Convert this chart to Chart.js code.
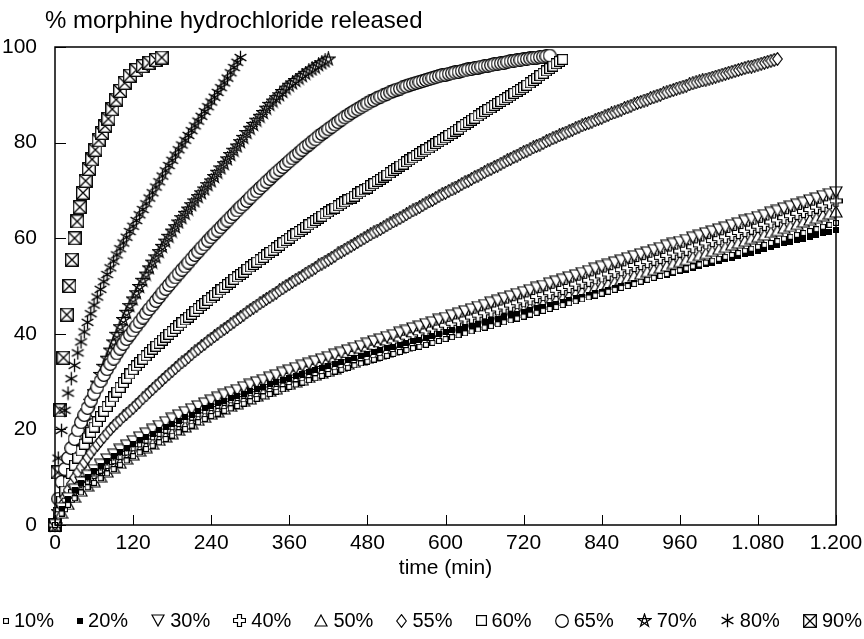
<!DOCTYPE html>
<html>
<head>
<meta charset="utf-8">
<title>morphine release</title>
<script src="https://cdn.jsdelivr.net/npm/chart.js@4.4.1/dist/chart.umd.min.js"></script>
<style>
  html, body { margin: 0; padding: 0; background: #fff; }
  #wrap { position: relative; width: 864px; height: 639px; }
  #ytitle { position: absolute; left: 45px; top: 6px; font: 24px "Liberation Sans", Arial, sans-serif; color: #000; white-space: nowrap; }
  #legend { position: absolute; left: 0; top: 609px; width: 864px; box-sizing: border-box; padding: 0 2px 0 3px;
            display: flex; justify-content: space-between; align-items: center;
            font: 20px "Liberation Sans", Arial, sans-serif; color: #000; }
  #legend .item { display: flex; align-items: center; white-space: nowrap; }
  #legend canvas { margin-right: 5px; }
</style>
</head>
<body>
<div id="wrap">
  <canvas id="chart" width="864" height="639"></canvas>
  <div id="ytitle">% morphine hydrochloride released</div>
  <div id="legend"></div>
</div>
<script>
'use strict';

// sampling times (min)
const t10 = [0,10,20,30,40,50,60,70,80,90,100,110,120,130,140,150,160,170,180,190,200,210,220,230,240,
  250,260,270,280,290,300,310,320,330,340,350,360,370,380,390,400,410,420,430,440,450,460,470,480,
  490,500,510,520,530,540,550,560,570,580,590,600,610,620,630,640,650,660,670,680,690,700,710,720,
  730,740,750,760,770,780,790,800,810,820,830,840,850,860,870,880,890,900,910,920,930,940,950,960,
  970,980,990,1000,1010,1020,1030,1040,1050,1060,1070,1080,1090,1100,1110,1120,1130,1140,1150,1160,1170,1180,1190,1200];
const t5 = [0,5,10,15,20,25,30,35,40,45,50,55,60,65,70,75,80,85,90,95,100,105,110,115,120,
  125,130,135,140,145,150,155,160,165,170,175,180,185,190,195,200,205,210,215,220,225,230,235,240,
  245,250,255,260,265,270,275,280,285,290,295,300,305,310,315,320,325,330,335,340,345,350,355,360,
  365,370,375,380,385,390,395,400,405,410,415,420,425,430,435,440,445,450,455,460,465,470,475,480,
  485,490,495,500,505,510,515,520,525,530,535,540,545,550,555,560,565,570,575,580,585,590,595,600,
  605,610,615,620,625,630,635,640,645,650,655,660,665,670,675,680,685,690,695,700,705,710,715,720,
  725,730,735,740,745,750,755,760,765,770,775,780,785,790,795,800,805,810,815,820,825,830,835,840,
  845,850,855,860,865,870,875,880,885,890,895,900,905,910,915,920,925,930,935,940,945,950,955,960,
  965,970,975,980,985,990,995,1000,1005,1010,1015,1020,1025,1030,1035,1040,1045,1050,1055,1060,1065,1070,1075,1080,
  1085,1090,1095,1100,1105,1110];
const t90 = [0,4,8,13,18,22,26,30,34,38,43,47,52,57,62,67,72,77,82,88,94,100,107,115,125,135,145,155,164];

// % released
const rel10 = [0,2.4,4.2,5.6,6.8,7.9,8.8,9.8,10.8,11.7,12.6,13.5,14.4,
  15.2,15.9,16.6,17.3,18.0,18.7,19.4,20.1,20.8,21.5,22.2,22.8,
  23.3,23.9,24.4,24.9,25.4,25.9,26.4,26.9,27.4,27.9,28.4,28.9,
  29.4,29.8,30.3,30.7,31.2,31.6,32.1,32.5,32.9,33.4,33.8,34.2,
  34.6,35.0,35.4,35.8,36.2,36.6,37.0,37.3,37.7,38.1,38.5,38.9,
  39.3,39.7,40.1,40.5,40.9,41.3,41.6,42.0,42.4,42.8,43.2,43.6,
  44.0,44.4,44.8,45.2,45.6,46.0,46.4,46.8,47.2,47.6,48.0,48.4,
  48.8,49.2,49.6,50.0,50.4,50.9,51.3,51.7,52.1,52.5,52.9,53.3,
  53.7,54.1,54.5,54.9,55.3,55.7,56.1,56.5,56.9,57.4,57.8,58.2,
  58.6,59.0,59.4,59.9,60.3,60.7,61.1,61.5,61.9,62.4,62.8,63.2];
const rel20 = [0,3.4,5.5,7.3,8.8,10.1,11.2,12.3,13.4,14.4,15.3,16.2,17.0,
  17.7,18.4,19.1,19.8,20.5,21.1,21.8,22.5,23.1,23.8,24.4,25.0,
  25.5,26.0,26.5,27.0,27.5,28.0,28.5,28.9,29.4,29.9,30.3,30.8,
  31.2,31.6,32.1,32.5,32.9,33.3,33.7,34.2,34.6,35.0,35.4,35.8,
  36.2,36.6,37.0,37.3,37.7,38.1,38.5,38.8,39.2,39.6,39.9,40.3,
  40.7,41.0,41.4,41.7,42.1,42.5,42.8,43.2,43.5,43.9,44.2,44.6,
  44.9,45.3,45.6,46.0,46.3,46.7,47.1,47.4,47.8,48.1,48.5,48.8,
  49.2,49.5,49.9,50.2,50.6,50.9,51.3,51.7,52.0,52.4,52.7,53.1,
  53.4,53.8,54.2,54.5,54.9,55.2,55.6,55.9,56.3,56.7,57.0,57.4,
  57.8,58.1,58.5,58.9,59.2,59.6,59.9,60.3,60.7,61.0,61.4,61.8];
const rel30 = [0,3.5,5.6,7.4,8.9,10.3,11.5,12.6,13.7,14.7,15.7,16.6,17.5,
  18.3,19.1,19.9,20.7,21.5,22.2,22.9,23.6,24.2,24.8,25.4,26.0,
  26.6,27.2,27.7,28.2,28.8,29.3,29.8,30.3,30.8,31.3,31.8,32.3,
  32.8,33.3,33.7,34.2,34.6,35.1,35.6,36.0,36.5,37.0,37.4,37.9,
  38.4,38.8,39.3,39.7,40.2,40.6,41.1,41.5,42.0,42.4,42.9,43.3,
  43.8,44.2,44.7,45.1,45.6,46.0,46.5,46.9,47.4,47.8,48.3,48.7,
  49.1,49.6,50.0,50.5,50.9,51.3,51.8,52.2,52.7,53.1,53.6,54.0,
  54.4,54.9,55.3,55.8,56.2,56.6,57.0,57.5,57.9,58.4,58.8,59.2,
  59.6,60.1,60.5,61.0,61.4,61.8,62.2,62.7,63.1,63.6,64.0,64.4,
  64.8,65.3,65.7,66.2,66.6,67.0,67.4,67.9,68.3,68.8,69.2,69.6];
const rel40 = [0,3.2,5.2,7.0,8.5,9.8,11.0,12.1,13.1,14.1,15.0,15.9,16.8,
  17.6,18.4,19.1,19.8,20.5,21.2,21.9,22.6,23.2,23.9,24.5,25.2,
  25.7,26.3,26.8,27.3,27.8,28.3,28.8,29.3,29.8,30.3,30.8,31.3,
  31.8,32.2,32.7,33.2,33.6,34.1,34.5,35.0,35.5,35.9,36.4,36.8,
  37.2,37.7,38.1,38.5,38.9,39.3,39.8,40.2,40.6,41.0,41.4,41.8,
  42.2,42.7,43.1,43.5,43.9,44.4,44.8,45.2,45.6,46.0,46.5,46.9,
  47.3,47.8,48.2,48.6,49.1,49.5,49.9,50.4,50.8,51.2,51.7,52.1,
  52.5,53.0,53.4,53.8,54.3,54.7,55.1,55.6,56.0,56.4,56.9,57.3,
  57.7,58.2,58.6,59.0,59.5,59.9,60.3,60.8,61.2,61.6,62.1,62.5,
  62.9,63.4,63.8,64.3,64.7,65.2,65.6,66.0,66.5,66.9,67.4,67.8];
const rel50 = [0,2.6,4.4,5.9,7.2,8.3,9.2,10.2,11.2,12.1,13.0,13.9,14.8,
  15.6,16.3,17.0,17.8,18.5,19.2,19.9,20.6,21.3,22.0,22.6,23.3,
  23.8,24.4,24.9,25.5,26.0,26.5,27.1,27.6,28.1,28.6,29.1,29.6,
  30.1,30.5,31.0,31.5,31.9,32.4,32.8,33.3,33.8,34.2,34.7,35.1,
  35.5,35.9,36.4,36.8,37.2,37.6,38.0,38.4,38.8,39.2,39.6,40.0,
  40.4,40.8,41.3,41.7,42.1,42.5,42.9,43.3,43.8,44.2,44.6,45.0,
  45.4,45.8,46.3,46.7,47.1,47.5,48.0,48.4,48.8,49.2,49.7,50.1,
  50.5,50.9,51.4,51.8,52.2,52.6,53.1,53.5,53.9,54.3,54.8,55.2,
  55.6,56.1,56.5,56.9,57.4,57.8,58.2,58.7,59.1,59.5,60.0,60.4,
  60.8,61.3,61.7,62.2,62.6,63.0,63.5,63.9,64.3,64.8,65.2,65.6];
const rel55 = [0,2.2,4.0,5.8,7.3,8.6,9.9,11.0,12.1,13.1,14.1,15.1,16.0,16.8,17.6,18.4,19.2,20.0,20.7,21.4,22.0,22.7,23.3,23.9,24.5,
  25.2,25.8,26.5,27.1,27.8,28.4,29.1,29.7,30.4,31.0,31.6,32.2,32.8,33.4,34.0,34.5,35.1,35.7,36.3,36.8,37.4,37.9,38.5,39.0,
  39.5,40.0,40.5,41.0,41.5,42.0,42.5,43.0,43.5,44.0,44.5,45.0,45.5,45.9,46.4,46.8,47.3,47.7,48.2,48.6,49.1,49.5,50.0,50.4,
  50.9,51.3,51.7,52.1,52.6,53.0,53.4,53.8,54.3,54.7,55.1,55.5,55.9,56.3,56.8,57.2,57.6,58.0,58.4,58.8,59.2,59.6,60.0,60.4,
  60.8,61.2,61.6,61.9,62.3,62.7,63.1,63.5,63.9,64.2,64.6,65.0,65.4,65.8,66.2,66.5,66.9,67.3,67.7,68.0,68.4,68.8,69.2,69.5,
  69.9,70.2,70.6,70.9,71.3,71.7,72.0,72.4,72.8,73.1,73.5,73.8,74.2,74.5,74.9,75.2,75.6,75.9,76.3,76.6,77.0,77.3,77.7,78.0,
  78.3,78.6,79.0,79.3,79.6,79.9,80.3,80.6,80.9,81.2,81.5,81.8,82.1,82.4,82.7,83.0,83.3,83.6,83.9,84.1,84.4,84.7,85.0,85.2,
  85.5,85.8,86.1,86.3,86.6,86.9,87.2,87.4,87.7,88.0,88.3,88.5,88.8,89.0,89.3,89.5,89.8,90.0,90.3,90.5,90.8,91.0,91.3,91.5,
  91.7,91.9,92.2,92.4,92.6,92.8,93.0,93.2,93.4,93.6,93.8,94.0,94.2,94.4,94.6,94.8,95.0,95.2,95.4,95.6,95.8,95.9,96.1,96.3,
  96.5,96.7,96.9,97.1,97.3,97.5];
const rel60 = [0,2.7,5.0,7.1,9.0,10.8,12.5,14.0,15.5,16.9,18.2,19.4,20.5,21.6,22.7,23.8,24.8,25.8,26.8,27.8,28.8,29.8,30.7,31.6,32.5,
  33.3,34.0,34.7,35.4,36.1,36.8,37.4,38.0,38.7,39.3,39.9,40.5,41.1,41.7,42.3,42.9,43.5,44.1,44.7,45.3,45.9,46.4,47.0,47.5,
  48.1,48.6,49.2,49.7,50.3,50.8,51.4,51.9,52.4,52.9,53.5,54.0,54.5,55.0,55.5,56.0,56.5,57.0,57.5,58.0,58.5,59.0,59.5,60.0,
  60.5,60.9,61.4,61.8,62.3,62.8,63.2,63.7,64.2,64.6,65.1,65.5,65.9,66.3,66.8,67.2,67.6,68.0,68.4,68.8,69.3,69.7,70.1,70.5,
  71.0,71.4,71.9,72.3,72.8,73.2,73.7,74.2,74.6,75.1,75.5,76.0,76.4,76.8,77.3,77.7,78.1,78.5,78.9,79.3,79.8,80.2,80.6,81.0,
  81.5,81.9,82.4,82.8,83.3,83.8,84.2,84.7,85.1,85.6,86.0,86.5,86.9,87.3,87.8,88.2,88.6,89.0,89.4,89.8,90.3,90.7,91.1,91.5,
  92.0,92.5,93.0,93.5,94.0,94.5,95.0,95.5,96.0,96.5,97.0,97.4];
const rel65 = [0,5.5,9.0,11.7,14.0,16.1,18.0,19.8,21.5,23.0,24.5,26.0,27.5,28.8,30.1,31.4,32.6,33.7,34.8,35.9,36.9,37.9,38.9,39.8,40.7,
  41.6,42.5,43.4,44.3,45.2,46.0,46.9,47.7,48.6,49.4,50.2,51.0,51.8,52.6,53.4,54.1,54.9,55.7,56.5,57.2,58.0,58.7,59.5,60.2,
  60.9,61.6,62.3,63.0,63.7,64.4,65.1,65.8,66.5,67.1,67.8,68.5,69.2,69.8,70.5,71.1,71.8,72.4,73.1,73.7,74.3,74.9,75.5,76.1,
  76.7,77.3,77.9,78.5,79.1,79.6,80.2,80.7,81.3,81.8,82.3,82.8,83.3,83.8,84.3,84.8,85.3,85.7,86.2,86.6,87.0,87.4,87.8,88.2,
  88.6,88.9,89.3,89.6,89.9,90.2,90.5,90.8,91.1,91.3,91.6,91.8,92.1,92.3,92.5,92.7,92.9,93.1,93.3,93.5,93.7,93.9,94.1,94.2,
  94.4,94.5,94.7,94.8,95.0,95.1,95.3,95.4,95.6,95.7,95.9,96.0,96.1,96.2,96.4,96.5,96.6,96.7,96.9,97.0,97.1,97.2,97.3,97.4,
  97.5,97.6,97.7,97.8,97.9,98.0,98.1,98.2];
const rel70 = [0,2.8,5.2,7.7,10.1,12.6,15.0,17.3,19.6,21.8,23.9,25.9,27.9,29.7,31.5,33.2,34.9,36.6,38.3,39.9,41.5,43.0,44.5,45.9,47.3,
  48.6,49.9,51.2,52.5,53.8,55.0,56.1,57.2,58.3,59.4,60.4,61.5,62.4,63.4,64.3,65.2,66.1,67.0,67.8,68.7,69.5,70.3,71.2,72.0,
  72.9,73.8,74.7,75.6,76.6,77.5,78.4,79.3,80.2,81.1,82.1,83.0,83.8,84.7,85.5,86.3,87.2,88.0,88.7,89.4,90.0,90.7,91.4,92.0,
  92.5,93.0,93.5,94.0,94.5,95.0,95.4,95.8,96.3,96.7,97.1,97.5];
const rel80 = [0,14.0,19.8,24.0,27.6,30.6,33.4,36.0,38.3,40.4,42.4,44.2,46.0,47.7,49.3,50.9,52.4,53.8,55.2,56.5,57.8,59.0,60.2,61.4,62.5,
  63.7,64.9,66.0,67.2,68.4,69.5,70.7,71.8,73.0,74.1,75.2,76.3,77.4,78.5,79.5,80.5,81.5,82.5,83.5,84.5,85.5,86.5,87.5,88.5,
  89.5,90.5,91.5,92.5,93.5,94.6,95.7,96.8,97.8];
const rel90 = [0,11,24,35,44,50,55.5,60,63.5,66.5,69.5,72,74.5,76.5,78.5,80.5,82,83.5,85,87,89,90.8,92.5,94,95.2,96,96.7,97.3,97.8];

const seriesLabels = ['10%','20%','30%','40%','50%','55%','60%','65%','70%','80%','90%'];
const xTickLabels = ['0','120','240','360','480','600','720','840','960','1.080','1.200'];
const yTickLabels = ['0','20','40','60','80','100'];

// marker glyphs, drawn once into small canvases
function marker(w, h, draw) {
  const c = document.createElement('canvas');
  c.width = w; c.height = h;
  const g = c.getContext('2d');
  g.lineWidth = 1.2;
  g.strokeStyle = '#000';
  g.fillStyle = '#fff';
  draw(g);
  return c;
}
function poly(g, p) {
  g.beginPath();
  g.moveTo(p[0][0], p[0][1]);
  for (let i = 1; i < p.length; i++) g.lineTo(p[i][0], p[i][1]);
  g.closePath();
  g.fill();
  g.stroke();
}
const glyphs = [
  () => marker(6, 6, g => { g.fillRect(0, 0, 6, 6); g.strokeRect(0.5, 0.5, 5, 5); }),
  () => marker(6, 6, g => { g.fillStyle = '#000'; g.fillRect(0, 0, 6, 6); }),
  () => marker(14, 13, g => poly(g, [[1, 1], [13, 1], [7, 12]])),
  () => marker(13, 13, g => poly(g, [[4.5,0.5],[8.5,0.5],[8.5,4.5],[12.5,4.5],[12.5,8.5],[8.5,8.5],[8.5,12.5],[4.5,12.5],[4.5,8.5],[0.5,8.5],[0.5,4.5],[4.5,4.5]])),
  () => marker(14, 13, g => poly(g, [[7, 1], [13, 12], [1, 12]])),
  () => marker(11, 14, g => poly(g, [[5.5, 0.7], [10.3, 7], [5.5, 13.3], [0.7, 7]])),
  () => marker(11, 11, g => { g.fillRect(0, 0, 11, 11); g.strokeRect(0.6, 0.6, 9.8, 9.8); }),
  () => marker(14, 14, g => { g.beginPath(); g.arc(7, 7, 6.3, 0, Math.PI * 2); g.fill(); g.stroke(); }),
  () => marker(15, 15, g => {
    const p = [];
    for (let k = 0; k < 5; k++) {
      const a = -Math.PI / 2 + k * 4 * Math.PI / 5;
      p.push([7.5 + 6.8 * Math.cos(a), 7.8 + 6.8 * Math.sin(a)]);
    }
    poly(g, p);
  }),
  () => marker(15, 15, g => {
    g.lineWidth = 1.3;
    g.beginPath();
    [90, 30, 150].forEach(d => {
      const a = d * Math.PI / 180;
      g.moveTo(7.5 - 6.8 * Math.cos(a), 7.5 - 6.8 * Math.sin(a));
      g.lineTo(7.5 + 6.8 * Math.cos(a), 7.5 + 6.8 * Math.sin(a));
    });
    g.stroke();
  }),
  () => marker(14, 14, g => {
    g.lineWidth = 1.3;
    g.fillRect(0, 0, 14, 14);
    g.strokeRect(0.7, 0.7, 12.6, 12.6);
    g.beginPath();
    g.moveTo(1, 1); g.lineTo(13, 13);
    g.moveTo(13, 1); g.lineTo(1, 13);
    g.stroke();
  })
];

function pts(ts, ys) {
  return ys.map((y, i) => ({x: ts[i], y: y}));
}

const seriesData = [
  pts(t10, rel10), pts(t10, rel20), pts(t10, rel30), pts(t10, rel40), pts(t10, rel50),
  pts(t5, rel55), pts(t5, rel60), pts(t5, rel65), pts(t5, rel70), pts(t5, rel80), pts(t90, rel90)
];

const datasets = seriesLabels.map((lab, i) => ({
  label: lab,
  data: seriesData[i],
  pointStyle: glyphs[i](),
  pointRadius: 6,
  showLine: false,
  clip: false
}));

// legend row (html)
const legendEl = document.getElementById('legend');
seriesLabels.forEach((lab, i) => {
  const item = document.createElement('span');
  item.className = 'item';
  item.appendChild(glyphs[i]());
  const txt = document.createElement('span');
  txt.textContent = lab;
  item.appendChild(txt);
  legendEl.appendChild(item);
});

// box round the plot and inward tick marks
const frame = {
  id: 'frame',
  afterDatasetsDraw(chart) {
    const {ctx, chartArea: a, scales} = chart;
    ctx.save();
    ctx.strokeStyle = '#000';
    ctx.lineWidth = 1.5;
    ctx.strokeRect(a.left, a.top, a.right - a.left, a.bottom - a.top);
    ctx.lineWidth = 1;
    ctx.beginPath();
    scales.x.ticks.forEach(t => {
      const px = Math.round(scales.x.getPixelForValue(t.value)) + 0.5;
      ctx.moveTo(px, a.bottom);
      ctx.lineTo(px, a.bottom - 10);
    });
    scales.y.ticks.forEach(t => {
      const py = Math.round(scales.y.getPixelForValue(t.value)) + 0.5;
      ctx.moveTo(a.left, py);
      ctx.lineTo(a.left + 11, py);
    });
    ctx.stroke();
    ctx.restore();
  }
};

Chart.defaults.font.family = '"Liberation Sans", Arial, sans-serif';
Chart.defaults.color = '#000';

new Chart(document.getElementById('chart'), {
  type: 'scatter',
  data: { datasets: datasets },
  options: {
    responsive: false,
    animation: false,
    events: [],
    layout: { padding: { top: 47, right: 28, left: 0, bottom: 0 } },
    plugins: { legend: { display: false }, tooltip: { enabled: false } },
    scales: {
      x: {
        type: 'linear', min: 0, max: 1200,
        grid: { display: false },
        border: { display: false },
        ticks: {
          stepSize: 120, autoSkip: false, maxRotation: 0, padding: -2,
          font: { size: 21 },
          callback: (v, i) => xTickLabels[i]
        },
        title: { display: true, text: 'time (min)', font: { size: 21 }, padding: { top: 0, bottom: 58 } },
        afterFit: s => { s.height = 114; }
      },
      y: {
        type: 'linear', min: 0, max: 100,
        grid: { display: false },
        border: { display: false },
        ticks: {
          stepSize: 20, padding: 10,
          font: { size: 21 },
          callback: (v, i) => yTickLabels[i]
        },
        afterFit: s => { s.width = 55; }
      }
    }
  },
  plugins: [frame]
});
</script>
</body>
</html>
